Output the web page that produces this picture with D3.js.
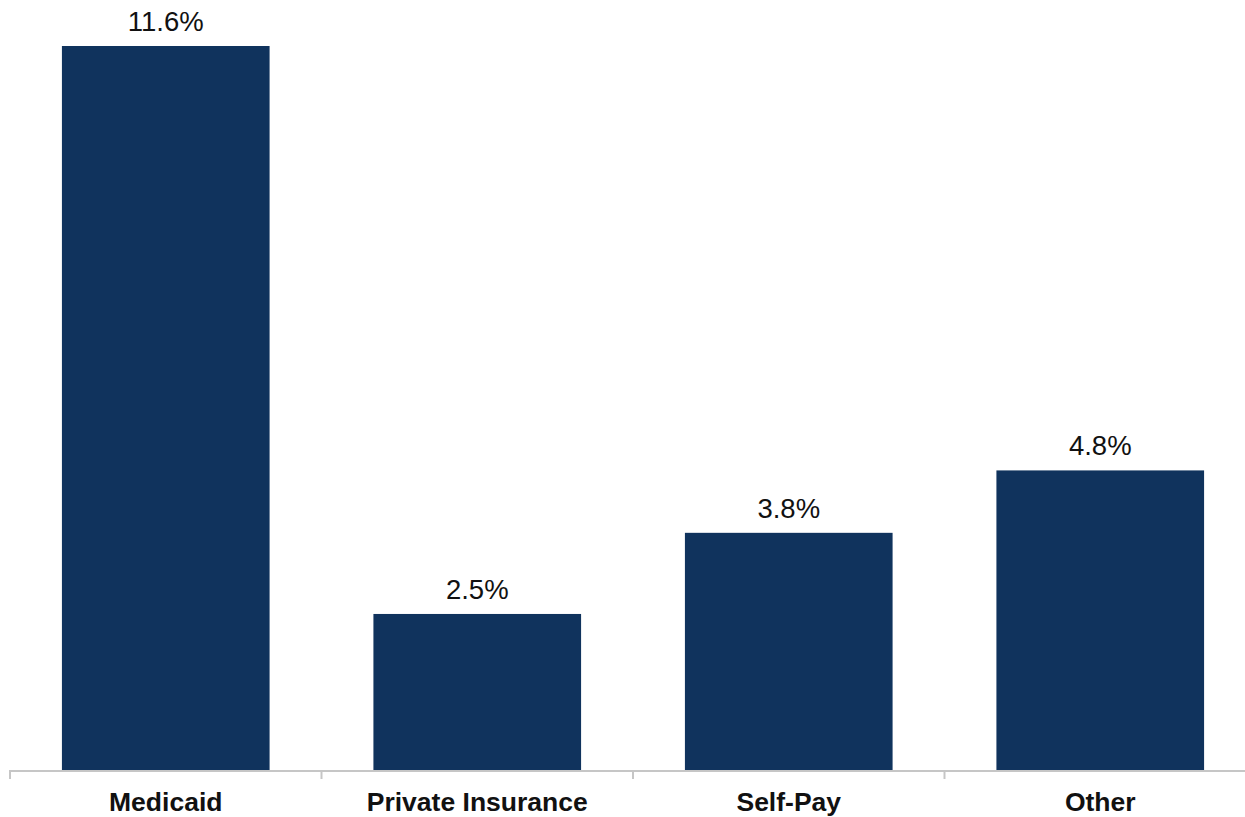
<!DOCTYPE html>
<html>
<head>
<meta charset="utf-8">
<script src="https://cdn.jsdelivr.net/npm/d3@7"></script>
<style>
  html, body { margin: 0; padding: 0; background: #fff; }
  svg { display: block; }
</style>
</head>
<body>
<div id="viz"></div>
<script>
const CATEGORIES = ["Medicaid", "Private Insurance", "Self-Pay", "Other"];
const VALUES = [11.6, 2.5, 3.8, 4.8];
const VALUE_LABELS = ["11.6%", "2.5%", "3.8%", "4.8%"];

const WIDTH = 1245;
const HEIGHT = 817;
const BAR_COLOR = "#10335d";
const AXIS_COLOR = "#c6c6c6";
const FONT = "'Liberation Sans', Arial, sans-serif";

const svg = d3.select("#viz")
  .append("svg")
  .attr("width", WIDTH)
  .attr("height", HEIGHT);

const x = d3.scaleBand()
  .domain(CATEGORIES)
  .range([10, 1256])
  .paddingInner(1 / 3)
  .paddingOuter(1 / 6);

const y = d3.scaleLinear()
  .domain([0, 11.6])
  .range([770, 46]);

const rows = CATEGORIES.map((c, i) => ({ cat: c, value: VALUES[i], label: VALUE_LABELS[i] }));

// bars
svg.selectAll("rect.bar")
  .data(rows)
  .join("rect")
  .attr("class", "bar")
  .attr("x", d => x(d.cat))
  .attr("y", d => y(d.value))
  .attr("width", x.bandwidth())
  .attr("height", d => y(0) - y(d.value))
  .attr("fill", BAR_COLOR);

// value labels
svg.selectAll("text.value")
  .data(rows)
  .join("text")
  .attr("class", "value")
  .attr("x", d => x(d.cat) + x.bandwidth() / 2)
  .attr("y", d => y(d.value) - 15)
  .attr("text-anchor", "middle")
  .attr("font-family", FONT)
  .attr("font-size", 27.5)
  .attr("fill", "#111")
  .text(d => d.label);

// axis line and boundary ticks
const base = y(0);
svg.append("line")
  .attr("x1", 10).attr("x2", WIDTH)
  .attr("y1", base + 1).attr("y2", base + 1)
  .attr("stroke", AXIS_COLOR)
  .attr("stroke-width", 2);

const half = x.step() * x.paddingInner() / 2;
const bounds = CATEGORIES.map(c => x(c) - half);
svg.selectAll("line.tick")
  .data(bounds)
  .join("line")
  .attr("class", "tick")
  .attr("x1", d => d).attr("x2", d => d)
  .attr("y1", base).attr("y2", base + 9)
  .attr("stroke", AXIS_COLOR)
  .attr("stroke-width", 2);

// category labels
svg.selectAll("text.cat")
  .data(rows)
  .join("text")
  .attr("class", "cat")
  .attr("x", d => x(d.cat) + x.bandwidth() / 2)
  .attr("y", 811)
  .attr("text-anchor", "middle")
  .attr("font-family", FONT)
  .attr("font-size", 26.5)
  .attr("font-weight", "bold")
  .attr("fill", "#111")
  .text(d => d.cat);
</script>
</body>
</html>
